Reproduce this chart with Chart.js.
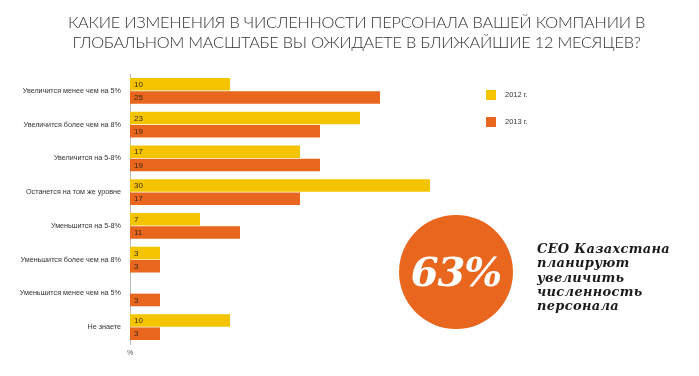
<!DOCTYPE html>
<html><head><meta charset="utf-8">
<script src="https://cdn.jsdelivr.net/npm/chart.js@4/dist/chart.umd.min.js"></script>
<style>
html,body{margin:0;padding:0;background:#fff;}
#wrap{position:relative;width:699px;height:376px;overflow:hidden;}
#c{position:absolute;left:0;top:0;}
.title{position:absolute;left:7px;width:699px;top:12px;text-align:center;font-family:Lato,"Noto Sans",sans-serif;font-weight:300;font-size:16.3px;line-height:20px;color:#333;letter-spacing:-0.2px;}
.leg{position:absolute;font-family:"Liberation Sans",Arial,sans-serif;font-size:7.5px;color:#333;}
.sw{position:absolute;width:10px;height:10px;}
.circle{position:absolute;left:399px;top:215px;width:114px;height:114px;border-radius:50%;background:#E8661E;color:#fff;font-family:"DejaVu Serif",serif;font-weight:bold;font-style:italic;font-size:40px;line-height:114px;text-align:center;letter-spacing:-1px;}
.note{position:absolute;left:537px;top:242px;font-family:"DejaVu Serif",serif;font-weight:bold;font-style:italic;font-size:13px;line-height:14.3px;color:#1a1a1a;letter-spacing:0.3px;}
</style></head>
<body><div id="wrap">
<canvas id="c" width="699" height="376"></canvas>
<div class="title">КАКИЕ ИЗМЕНЕНИЯ В ЧИСЛЕННОСТИ ПЕРСОНАЛА ВАШЕЙ КОМПАНИИ В<br>ГЛОБАЛЬНОМ МАСШТАБЕ ВЫ ОЖИДАЕТЕ В БЛИЖАЙШИЕ 12 МЕСЯЦЕВ?</div>
<div class="sw" style="left:486px;top:90px;background:#F5C400"></div>
<div class="leg" style="left:505px;top:90px;">2012 г.</div>
<div class="sw" style="left:486px;top:117px;background:#E8661E"></div>
<div class="leg" style="left:505px;top:117px;">2013 г.</div>
<div class="circle">63%</div>
<div class="note">CEO Казахстана<br>планируют<br>увеличить<br>численность<br>персонала</div>
</div>
<script>
const categories = ["Увеличится менее чем на 5%","Увеличится более чем на 8%","Увеличится на 5-8%","Останется на том же уровне","Уменьшится на 5-8%","Уменьшится более чем на 8%","Уменьшится менее чем на 5%","Не знаете"];
const values2012 = [10,23,17,30,7,3,0,10];
const values2013 = [25,19,19,17,11,3,3,3];
const seriesNames = ["2012 г.","2013 г."];
const axisUnit = "%";

const labelPlugin = {
  id:'labs',
  afterDatasetsDraw(chart){
    const ctx = chart.ctx;
    ctx.save();
    ctx.font = '8px "Liberation Sans", Arial, sans-serif';
    ctx.fillStyle = '#3a2a10';
    ctx.textBaseline = 'middle';
    chart.data.datasets.forEach((ds,i)=>{
      chart.getDatasetMeta(i).data.forEach((bar,j)=>{
        const v = ds.data[j];
        if(!v) return;
        ctx.fillText(String(v), bar.base + 4, bar.y + 0.5);
      });
    });
    const xs = chart.scales.x;
    ctx.fillStyle = '#555';
    ctx.font = '7px "Liberation Sans", Arial, sans-serif';
    ctx.textAlign = 'center';
    ctx.fillText(axisUnit, xs.getPixelForValue(0), chart.chartArea.bottom + 9);
    ctx.restore();
  }
};

new Chart(document.getElementById('c'), {
  type:'bar',
  data:{labels:categories, datasets:[
    {label:seriesNames[0], data:values2012, backgroundColor:'#F5C400', categoryPercentage:0.78, barPercentage:0.96},
    {label:seriesNames[1], data:values2013, backgroundColor:'#E8661E', categoryPercentage:0.78, barPercentage:0.96}
  ]},
  options:{
    indexAxis:'y', responsive:false, animation:false,
    layout:{padding:{top:74,bottom:32,left:0,right:169}},
    plugins:{legend:{display:false}, tooltip:{enabled:false}},
    scales:{
      x:{display:false,min:0,max:40},
      y:{
        afterFit(s){ s.width = 130; },
        grid:{display:false, drawTicks:false},
        border:{display:true,color:'#bbb',width:1},
        ticks:{padding:9,color:'#333',font:{family:'"Liberation Sans", Arial, sans-serif',size:7.2}}
      }
    }
  },
  plugins:[labelPlugin]
});
</script>
</body></html>
